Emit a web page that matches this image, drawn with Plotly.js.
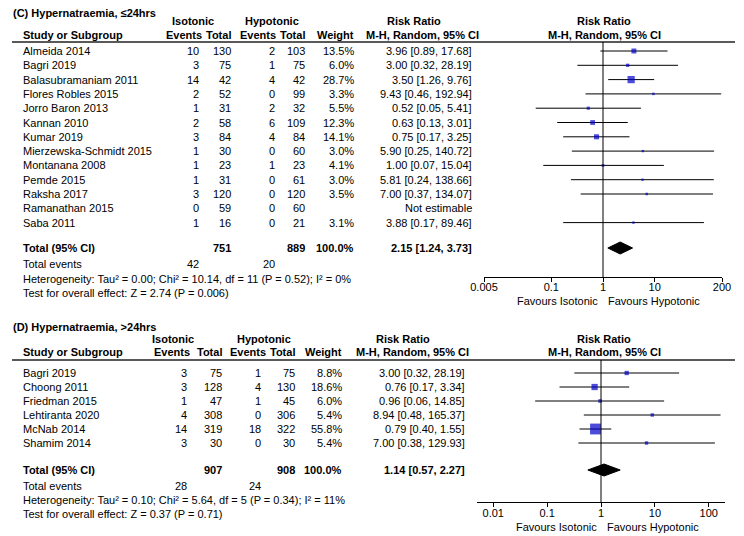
<!DOCTYPE html>
<html><head><meta charset="utf-8">
<script src="https://cdn.plot.ly/plotly-3.0.1.min.js"></script>
<style>html,body{margin:0;padding:0;background:#fff}</style>
</head><body><div id="chart" style="width:744px;height:536px"></div>
<script>
// ---------- Panel C data ----------
const titleC = "(C) Hypernatraemia, \u226424hrs";
const studiesC = ["Almeida 2014","Bagri 2019","Balasubramaniam 2011","Flores Robles 2015","Jorro Baron 2013","Kannan 2010","Kumar 2019","Mierzewska-Schmidt 2015","Montanana 2008","Pemde 2015","Raksha 2017","Ramanathan 2015","Saba 2011"];
const isoEvC  = [10,3,14,2,1,2,3,1,1,1,3,0,1];
const isoTotC = [130,75,42,52,31,58,84,30,23,31,120,59,16];
const hypEvC  = [2,1,4,0,2,6,4,0,1,0,0,0,0];
const hypTotC = [103,75,42,99,32,109,84,60,23,61,120,60,21];
const weightC = [13.5,6.0,28.7,3.3,5.5,12.3,14.1,3.0,4.1,3.0,3.5,null,3.1];
const rrC = [3.96,3.00,3.50,9.43,0.52,0.63,0.75,5.90,1.00,5.81,7.00,null,3.88];
const loC = [0.89,0.32,1.26,0.46,0.05,0.13,0.17,0.25,0.07,0.24,0.37,null,0.17];
const hiC = [17.68,28.19,9.76,192.94,5.41,3.01,3.25,140.72,15.04,138.66,134.07,null,89.46];
const totalsC = [751, 889, 42, 20];          // iso total, hyp total, iso events, hyp events
const pooledC = [2.15, 1.24, 3.73];
const hetC = "Heterogeneity: Tau\u00b2 = 0.00; Chi\u00b2 = 10.14, df = 11 (P = 0.52); I\u00b2 = 0%";
const testC = "Test for overall effect: Z = 2.74 (P = 0.006)";
const ticksC = [0.005, 0.1, 1, 10, 200];

// ---------- Panel D data ----------
const titleD = "(D) Hypernatraemia, >24hrs";
const studiesD = ["Bagri 2019","Choong 2011","Friedman 2015","Lehtiranta 2020","McNab 2014","Shamim 2014"];
const isoEvD  = [3,3,1,4,14,3];
const isoTotD = [75,128,47,308,319,30];
const hypEvD  = [1,4,1,0,18,0];
const hypTotD = [75,130,45,306,322,30];
const weightD = [8.8,18.6,6.0,5.4,55.8,5.4];
const rrD = [3.00,0.76,0.96,8.94,0.79,7.00];
const loD = [0.32,0.17,0.06,0.48,0.40,0.38];
const hiD = [28.19,3.34,14.85,165.37,1.55,129.93];
const totalsD = [907, 908, 28, 24];
const pooledD = [1.14, 0.57, 2.27];
const hetD = "Heterogeneity: Tau\u00b2 = 0.10; Chi\u00b2 = 5.64, df = 5 (P = 0.34); I\u00b2 = 11%";
const testD = "Test for overall effect: Z = 0.37 (P = 0.71)";
const ticksD = [0.01, 0.1, 1, 10, 100];

// ---------- layout (pixels) ----------
const W = 744, H = 536;
const FONT = "Liberation Sans, Arial, sans-serif";
const FS = 11;
const panels = [
  {title:titleC, studies:studiesC, ie:isoEvC, it:isoTotC, he:hypEvC, ht:hypTotC, w:weightC, rr:rrC, lo:loC, hi:hiC,
   totals:totalsC, pooled:pooledC, het:hetC, test:testC, ticks:ticksC, xa:'x', ya:'y', xa2:'x3', k:1.35,
   L:{titleY:13, grpY:21, hdrY:35, lineY:42, row0:51, rowH:14.3, totY:248, evY:264, hetY:279, testY:293,
      axisY:277, favY:301, plotL:484, plotR:722, one:603, standoff:-4, heHdr:277,
      study:22, ie:200, it:232, he:276, ht:306, wt:355, rr:473, isoC:193, hypC:272, rrHdr1:414, rrHdr2:422, plotHdr:604}},
  {title:titleD, studies:studiesD, ie:isoEvD, it:isoTotD, he:hypEvD, ht:hypTotD, w:weightD, rr:rrD, lo:loD, hi:hiD,
   totals:totalsD, pooled:pooledD, het:hetD, test:testD, ticks:ticksD, xa:'x2', ya:'y2', xa2:'x4', k:1.45,
   L:{titleY:327, grpY:339, hdrY:352, lineY:360, row0:373, rowH:14, totY:470, evY:486, hetY:500, testY:514,
      axisY:502, favY:527, plotL:477, plotR:725, one:602, standoff:-3, heHdr:267,
      study:22, ie:188, it:223, he:262, ht:296, wt:343, rr:466, isoC:173, hypC:264, rrHdr1:403, rrHdr2:413, plotHdr:604}}
];

const fmt = v => v.toFixed(2);
const annotations = [], shapes = [], traces = [];
function ann(text, x, y, xanchor, bold) {
  annotations.push({xref:'paper', yref:'paper', x:x/W, y:1 - y/H, xanchor:xanchor, yanchor:'middle',
    text: bold ? '<b>'+text+'</b>' : text, showarrow:false, borderpad:0,
    font:{family:FONT, size:FS, color:'#000'}});
}

const layout = {
  width:W, height:H, margin:{l:0,r:0,t:0,b:0}, paper_bgcolor:'#fff', plot_bgcolor:'rgba(0,0,0,0)',
  showlegend:false, annotations:annotations, shapes:shapes
};

const rmin = Math.log10(0.005), rmax = Math.log10(200);

panels.forEach((p, pi) => {
  const L = p.L;
  const n = p.studies.length;
  const rowY = i => L.row0 + i*L.rowH;
  // Text table
  ann(p.title, 12, L.titleY, 'left', true);
  ann('Isotonic', L.isoC, L.grpY, 'center', true);
  ann('Hypotonic', L.hypC, L.grpY, 'center', true);
  ann('Risk Ratio', L.rrHdr1, L.grpY, 'center', true);
  ann('Risk Ratio', L.plotHdr, L.grpY, 'center', true);
  ann('Study or Subgroup', L.study, L.hdrY, 'left', true);
  ann('Events', L.ie+3, L.hdrY, 'right', true);
  ann('Total', L.it, L.hdrY, 'right', true);
  ann('Events', L.heHdr, L.hdrY, 'right', true);
  ann('Total', L.ht, L.hdrY, 'right', true);
  ann('Weight', L.wt, L.hdrY, 'right', true);
  ann('M-H, Random, 95% CI', L.rrHdr2, L.hdrY, 'center', true);
  ann('M-H, Random, 95% CI', L.plotHdr, L.hdrY, 'center', true);
  shapes.push({type:'line', xref:'paper', yref:'paper', x0:12/W, x1:735/W, y0:1-L.lineY/H, y1:1-L.lineY/H,
    line:{color:'#222', width:1.5}});
  for (let i=0;i<n;i++) {
    const y = rowY(i);
    ann(p.studies[i], L.study, y, 'left');
    ann(String(p.ie[i]), L.ie, y, 'right');
    ann(String(p.it[i]), L.it, y, 'right');
    ann(String(p.he[i]), L.he, y, 'right');
    ann(String(p.ht[i]), L.ht, y, 'right');
    if (p.w[i] !== null) ann(p.w[i].toFixed(1)+'%', L.wt, y, 'right');
    ann(p.rr[i] === null ? 'Not estimable' : fmt(p.rr[i])+' ['+fmt(p.lo[i])+', '+fmt(p.hi[i])+']', L.rr, y, 'right');
  }
  ann('Total (95% CI)', L.study, L.totY, 'left', true);
  ann(String(p.totals[0]), L.it, L.totY, 'right', true);
  ann(String(p.totals[1]), L.ht, L.totY, 'right', true);
  ann('100.0%', L.wt, L.totY, 'right', true);
  ann(fmt(p.pooled[0])+' ['+fmt(p.pooled[1])+', '+fmt(p.pooled[2])+']', L.rr, L.totY, 'right', true);
  ann('Total events', L.study, L.evY, 'left');
  ann(String(p.totals[2]), L.ie, L.evY, 'right');
  ann(String(p.totals[3]), L.he, L.evY, 'right');
  ann(p.het, L.study, L.hetY, 'left');
  ann(p.test, L.study, L.testY, 'left');
  ann('Favours Isotonic', L.one-4, L.favY, 'right');
  ann('Favours Hypotonic', L.one+4, L.favY, 'left');

  // Axes
  const xName = pi===0 ? 'xaxis' : 'xaxis2';
  const x2Name = pi===0 ? 'xaxis3' : 'xaxis4';
  const yName = pi===0 ? 'yaxis' : 'yaxis2';
  const dom = [L.plotL/W, L.plotR/W];
  layout[xName] = {type:'log', domain:dom, range:[rmin,rmax], anchor:p.ya, showgrid:false, zeroline:false,
    showline:true, linecolor:'#000', linewidth:1, ticks:'outside', ticklen:4, tickcolor:'#000', tickwidth:1,
    tickvals:p.ticks, ticktext:p.ticks.map(String), tickfont:{family:FONT, size:FS, color:'#000'},
    ticklabelstandoff:L.standoff, fixedrange:true};
  layout[x2Name] = {type:'log', domain:dom, range:[rmin,rmax], anchor:p.ya, overlaying:p.xa, showgrid:false,
    zeroline:false, showline:false, ticks:'inside', ticklen:5, tickcolor:'#000', tickwidth:1,
    tickvals:p.ticks, showticklabels:false, fixedrange:true};
  layout[yName] = {domain:[1-L.axisY/H, 1-L.lineY/H], range:[L.axisY, L.lineY], visible:false, fixedrange:true};

  // vertical line of no effect
  shapes.push({type:'line', xref:p.xa, yref:p.ya, x0:1, x1:1, y0:L.lineY, y1:L.axisY, line:{color:'#000', width:1}});

  // CI lines and study squares
  const cx=[], cy=[];
  const mx=[], my=[], ms=[];
  for (let i=0;i<n;i++) {
    if (p.rr[i] === null) continue;
    const y = rowY(i);
    cx.push(p.lo[i], p.hi[i], null); cy.push(y, y, null);
    mx.push(p.rr[i]); my.push(y); ms.push(Math.max(2, p.k*Math.sqrt(p.w[i])));
  }
  traces.push({type:'scatter', mode:'lines', x:cx, y:cy, xaxis:p.xa, yaxis:p.ya,
    line:{color:'#000', width:1}, hoverinfo:'skip'});
  traces.push({type:'scatter', mode:'markers', x:mx, y:my, xaxis:p.xa, yaxis:p.ya,
    marker:{symbol:'square', color:'#0000c8', size:ms, line:{width:0}}, hoverinfo:'skip'});
  // pooled diamond
  const dh = 6;
  traces.push({type:'scatter', mode:'lines', fill:'toself', fillcolor:'#000',
    x:[p.pooled[1], p.pooled[0], p.pooled[2], p.pooled[0], p.pooled[1]],
    y:[L.totY, L.totY-dh, L.totY, L.totY+dh, L.totY], xaxis:p.xa, yaxis:p.ya,
    line:{color:'#000', width:1}, hoverinfo:'skip'});
});

Plotly.newPlot('chart', traces, layout, {displayModeBar:false, staticPlot:true});
</script></body></html>
